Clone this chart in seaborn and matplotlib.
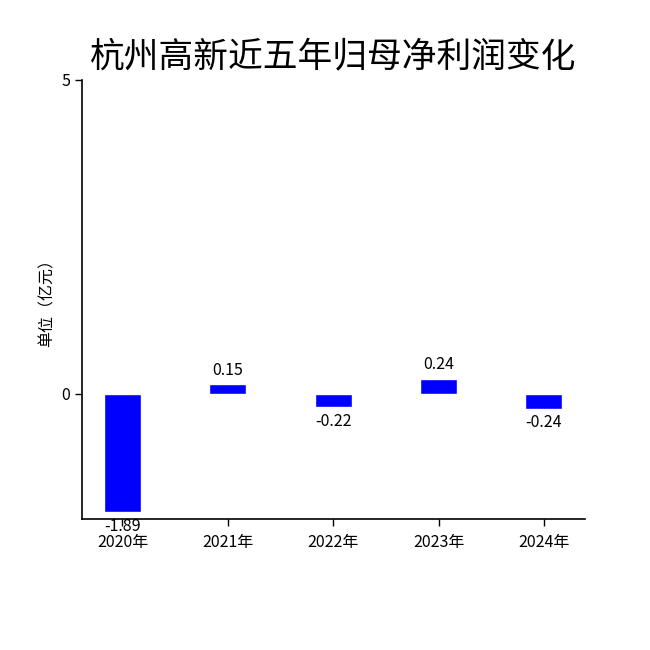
import matplotlib
matplotlib.use("Agg")
import matplotlib.pyplot as plt
import seaborn as sns
import pandas as pd

years = ["2020年", "2021年", "2022年", "2023年", "2024年"]
profits = [-1.89, 0.15, -0.22, 0.24, -0.24]
value_labels = ["-1.89", "0.15", "-0.22", "0.24", "-0.24"]
title = "杭州高新近五年归母净利润变化"
ylabel = "单位（亿元）"
yticks = [0, 5]

sns.set_theme(style="white")
plt.rcParams['font.family'] = ['Noto Sans CJK SC', 'DejaVu Sans']
plt.rcParams['axes.unicode_minus'] = False
plt.rcParams['text.color'] = 'black'
plt.rcParams['axes.labelcolor'] = 'black'

df = pd.DataFrame({"year": years, "profit": profits})

fig = plt.figure(figsize=(6.5, 6.5), dpi=100)
ax = fig.add_axes([0.126, 0.2015, 0.774, 0.6755])
sns.barplot(data=df, x="year", y="profit", color="#0000FF", width=0.35,
            saturation=1, ax=ax)

ax.set_xlim(-0.385, 4.39)
ax.set_ylim(-2, 5)
ax.set_yticks(yticks)
ax.set_yticklabels([str(t) for t in yticks])
ax.set_xlabel("")
ax.set_ylabel(ylabel, fontsize=11.5, labelpad=4, color="black")
ax.set_title(title, fontsize=25, pad=9, color="black")

for i, (v, lab) in enumerate(zip(profits, value_labels)):
    if v >= 0:
        ax.annotate(lab, (i, v), xytext=(0, 4), textcoords="offset points",
                    ha="center", va="bottom", fontsize=11.5, color="black")
    else:
        ax.annotate(lab, (i, v), xytext=(0, -4), textcoords="offset points",
                    ha="center", va="top", fontsize=11.5, color="black")

for s in ["top", "right"]:
    ax.spines[s].set_visible(False)
for s in ["left", "bottom"]:
    ax.spines[s].set_color("black")
    ax.spines[s].set_linewidth(1.2)

ax.tick_params(axis="both", direction="out", length=5, width=1, colors="black",
               labelsize=11.5, bottom=True, left=True)
ax.tick_params(axis="x", pad=5.5)

fig.savefig("out.png", dpi=100)
